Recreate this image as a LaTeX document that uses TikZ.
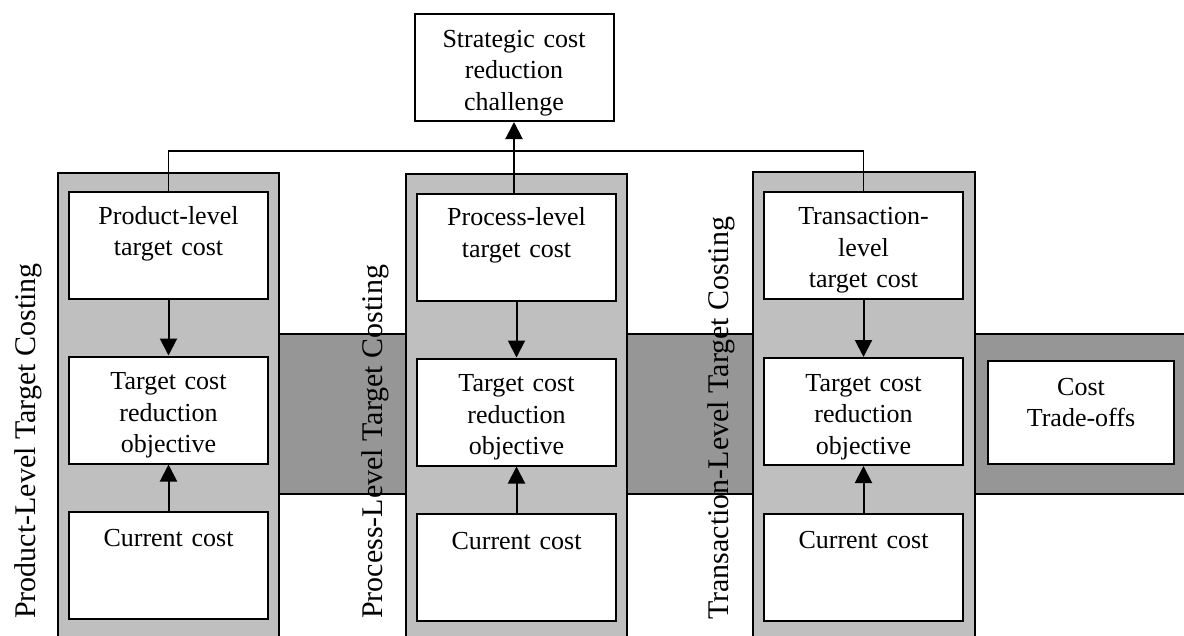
\documentclass[tikz,border=0pt]{standalone}
\usepackage{fontspec}
\setmainfont{Liberation Serif}
\usetikzlibrary{arrows.meta,calc}

\definecolor{lanegray}{gray}{0.75}
\definecolor{bandgray}{gray}{0.59}

\tikzset{
  edge/.style={line width=1.8pt},
  lane/.style={draw, line width=1.8pt, fill=lanegray},
  band/.style={draw, line width=1.8pt, fill=bandgray},
  stepbox/.style={draw, line width=2pt, fill=white, inner sep=0pt,
    minimum width=199pt, minimum height=107pt},
  boxtext/.style={text width=196pt, align=center, inner sep=0pt, anchor=base,
    font=\fontsize{26}{31.5}\selectfont},
  lanetitle/.style={rotate=90, anchor=base west, inner sep=0pt,
    font=\fontsize{30}{36}\selectfont},
  arr/.style={line width=2pt, -{Triangle[length=17pt,width=17pt]}},
}

\begin{document}
\begin{tikzpicture}[x=1pt,y=-1pt]
\useasboundingbox (0,0) rectangle (1184,635);

% horizontal trade-off band behind the columns
\path[band] (270,334) rectangle (1195,494);

% the three costing columns
\path[lane] (58,173) rectangle (279,650);
\path[lane] (406,174) rectangle (627,650);
\path[lane] (753,172) rectangle (975,650);

% top of the hierarchy
\node[stepbox] (strat) at (514,67.5) {};
\node[boxtext] (stratt) at ($(strat.north)+(0,34)$) {Strategic cost\\reduction\\challenge};

% column 1: product level
\node[stepbox] (p1) at (168.5,245.5) {};
\node[stepbox] (r1) at (168.5,410) {};
\node[stepbox] (c1) at (168.5,565) {};
\node[boxtext] (p1t) at ($(p1.north)+(0,33)$) {Product-level\\target cost};
\node[boxtext] (r1t) at ($(r1.north)+(0,34)$) {Target cost\\reduction\\objective};
\node[boxtext] (c1t) at ($(c1.north)+(0,36)$) {Current cost};

% column 2: process level
\node[stepbox] (p2) at (516.5,247) {};
\node[stepbox] (r2) at (516.5,412) {};
\node[stepbox] (c2) at (516.5,567.5) {};
\node[boxtext] (p2t) at ($(p2.north)+(0,33)$) {Process-level\\target cost};
\node[boxtext] (r2t) at ($(r2.north)+(0,34)$) {Target cost\\reduction\\objective};
\node[boxtext] (c2t) at ($(c2.north)+(0,36)$) {Current cost};

% column 3: transaction level
\node[stepbox] (p3) at (863.5,245) {};
\node[stepbox] (r3) at (863.5,411.5) {};
\node[stepbox] (c3) at (863.5,567) {};
\node[boxtext] (p3t) at ($(p3.north)+(0,34)$) {Transaction-\\level\\target cost};
\node[boxtext] (r3t) at ($(r3.north)+(0,34)$) {Target cost\\reduction\\objective};
\node[boxtext] (c3t) at ($(c3.north)+(0,36)$) {Current cost};

% trade-off box on the band
\node[stepbox, minimum width=186pt, minimum height=103pt] (trade) at (1081,412.5) {};
\node[boxtext] (tradet) at ($(trade.north)+(0,35)$) {Cost\\Trade-offs};

% column titles
\node[lanetitle] (l1) at (35,619) {Product-Level Target Costing};
\node[lanetitle] (l2) at (382,619) {Process-Level Target Costing};
\node[lanetitle] (l3) at (728,620) {Transaction-Level Target Costing};

% links inside each column
\foreach \i in {1,2,3}{
  \draw[arr] (p\i.south) -- (r\i.north);
  \draw[arr] (c\i.north) -- (r\i.south);
}

% roll-up to the strategic challenge
\coordinate (bus) at (0,151);
\draw[edge] (p1.north) |- (p3.north |- bus) -- (p3.north);
\draw[arr] (strat.south |- p2.north) -- (strat.south);
\end{tikzpicture}
\end{document}
